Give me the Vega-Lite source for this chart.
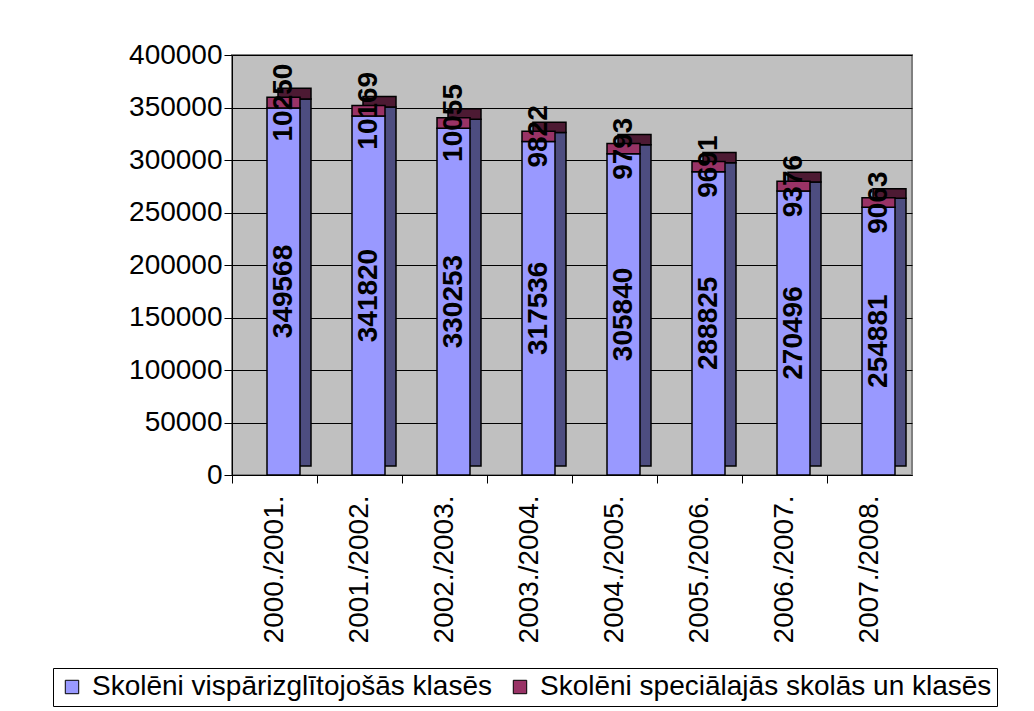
{
  "$schema": "https://vega.github.io/schema/vega-lite/v6.json",
  "width": 680,
  "height": 420,
  "autosize": {"type": "none"},
  "padding": {"left": 232, "top": 55, "right": 122, "bottom": 236},
  "background": "white",
  "config": {
    "font": "Liberation Sans",
    "view": {"fill": "#c0c0c0", "stroke": "#808080", "strokeWidth": 2}
  },
  "data": {
    "values": [
      {"year": "2000./2001.", "series": "Skolēni vispārizglītojošās klasēs", "value": 349568},
      {"year": "2000./2001.", "series": "Skolēni speciālajās skolās un klasēs", "value": 10250},
      {"year": "2001./2002.", "series": "Skolēni vispārizglītojošās klasēs", "value": 341820},
      {"year": "2001./2002.", "series": "Skolēni speciālajās skolās un klasēs", "value": 10169},
      {"year": "2002./2003.", "series": "Skolēni vispārizglītojošās klasēs", "value": 330253},
      {"year": "2002./2003.", "series": "Skolēni speciālajās skolās un klasēs", "value": 10055},
      {"year": "2003./2004.", "series": "Skolēni vispārizglītojošās klasēs", "value": 317536},
      {"year": "2003./2004.", "series": "Skolēni speciālajās skolās un klasēs", "value": 9822},
      {"year": "2004./2005.", "series": "Skolēni vispārizglītojošās klasēs", "value": 305840},
      {"year": "2004./2005.", "series": "Skolēni speciālajās skolās un klasēs", "value": 9793},
      {"year": "2005./2006.", "series": "Skolēni vispārizglītojošās klasēs", "value": 288825},
      {"year": "2005./2006.", "series": "Skolēni speciālajās skolās un klasēs", "value": 9691},
      {"year": "2006./2007.", "series": "Skolēni vispārizglītojošās klasēs", "value": 270496},
      {"year": "2006./2007.", "series": "Skolēni speciālajās skolās un klasēs", "value": 9376},
      {"year": "2007./2008.", "series": "Skolēni vispārizglītojošās klasēs", "value": 254881},
      {"year": "2007./2008.", "series": "Skolēni speciālajās skolās un klasēs", "value": 9063}
    ]
  },
  "encoding": {
    "x": {
      "field": "year",
      "type": "nominal",
      "sort": null,
      "scale": {"paddingInner": 0, "paddingOuter": 0},
      "axis": {
        "title": null,
        "labelAngle": -90,
        "labelAlign": "right",
        "labelBaseline": "middle",
        "labelFontSize": 28,
        "labelColor": "black",
        "labelPadding": 12,
        "bandPosition": 0,
        "ticks": true,
        "tickColor": "black",
        "tickSize": 8,
        "domainColor": "black",
        "grid": false
      }
    },
    "y": {
      "field": "value",
      "type": "quantitative",
      "stack": "zero",
      "scale": {"domain": [0, 400000], "nice": false},
      "axis": {
        "title": null,
        "values": [0, 50000, 100000, 150000, 200000, 250000, 300000, 350000, 400000],
        "format": "d",
        "labelFontSize": 28,
        "labelColor": "black",
        "labelPadding": 2,
        "tickColor": "black",
        "tickSize": 8,
        "domainColor": "black",
        "gridColor": "black",
        "gridOpacity": 1,
        "gridWidth": 1
      }
    },
    "order": {"field": "series", "sort": "descending"}
  },
  "layer": [
    {
      "mark": {"type": "bar", "size": 33, "stroke": "black", "strokeWidth": 1.5, "xOffset": 20, "yOffset": -9},
      "encoding": {
        "fill": {
          "field": "series",
          "type": "nominal",
          "scale": {
            "domain": ["Skolēni vispārizglītojošās klasēs", "Skolēni speciālajās skolās un klasēs"],
            "range": ["#4d4d80", "#4d1a33"]
          },
          "legend": null
        }
      }
    },
    {
      "mark": {"type": "bar", "size": 33, "stroke": "black", "strokeWidth": 1.5, "xOffset": 9},
      "encoding": {
        "color": {
          "field": "series",
          "type": "nominal",
          "scale": {
            "domain": ["Skolēni vispārizglītojošās klasēs", "Skolēni speciālajās skolās un klasēs"],
            "range": ["#9999ff", "#993366"]
          },
          "legend": {
            "title": null,
            "orient": "none",
            "direction": "horizontal",
            "legendX": -179,
            "legendY": 613,
            "labelFontSize": 28,
            "labelColor": "black",
            "labelLimit": 600,
            "labelOffset": 6,
            "symbolType": "square",
            "symbolSize": 180,
            "symbolStrokeColor": "black",
            "symbolStrokeWidth": 1,
            "columnPadding": 14,
            "padding": 5,
            "strokeColor": "black",
            "fillColor": "white"
          }
        }
      }
    },
    {
      "mark": {"type": "text", "angle": -90, "fontSize": 28, "fontWeight": "bold", "color": "black", "align": "center", "baseline": "middle", "xOffset": 9},
      "encoding": {
        "y": {"field": "value", "type": "quantitative", "stack": "zero", "bandPosition": 0.5},
        "text": {"field": "value", "type": "quantitative", "format": "d"}
      }
    }
  ],
  "resolve": {"scale": {"fill": "independent"}}
}
